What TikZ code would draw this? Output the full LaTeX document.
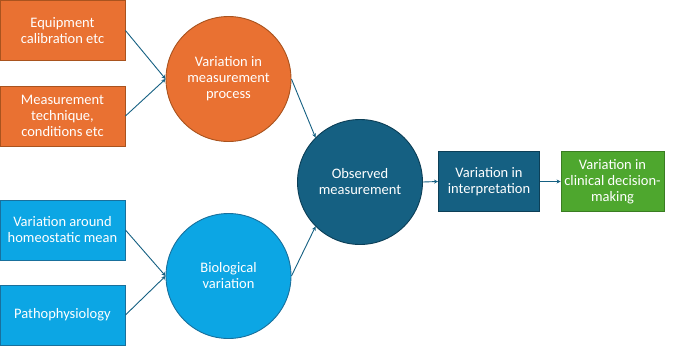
\documentclass[tikz,border=0pt]{standalone}
\usepackage{fontspec}
\setmainfont{Carlito}
\usetikzlibrary{arrows.meta}
\definecolor{orangefill}{HTML}{E97132}
\definecolor{orangeline}{HTML}{A9531E}
\definecolor{skyfill}{HTML}{0CA6E4}
\definecolor{skyline}{HTML}{19709C}
\definecolor{tealfill}{HTML}{156082}
\definecolor{tealline}{HTML}{0C3F57}
\definecolor{greenfill}{HTML}{4EA72E}
\definecolor{greenline}{HTML}{3A7D22}
\tikzset{
  boxtext/.style={align=center,text=white,font=\fontsize{14.5}{16}\selectfont},
  factor/.style={boxtext,draw,line width=0.9pt,minimum width=125pt,minimum height=60pt},
  source/.style={boxtext,circle,draw,line width=0.9pt,minimum size=125pt,inner sep=0pt},
  stage/.style={boxtext,draw,line width=0.9pt,minimum width=101pt,minimum height=60pt},
  link/.style={-{Stealth[length=4pt,width=4pt]},line width=0.9pt,draw=tealfill}
}
\begin{document}
\begin{tikzpicture}[x=1pt,y=-1pt]
\useasboundingbox (0,0) rectangle (680,346);
% measurement side
\node[factor,fill=orangefill,draw=orangeline] (calib) at (62.5,30.5) {Equipment\\calibration etc};
\node[factor,fill=orangefill,draw=orangeline] (techn) at (62.5,116) {Measurement\\technique,\\conditions etc};
\node[source,fill=orangefill,draw=orangeline] (measvar) at (228.5,79) {Variation in\\measurement\\process};
% biological side
\node[factor,fill=skyfill,draw=skyline] (homeo) at (62.5,230) {Variation around\\homeostatic mean};
\node[factor,fill=skyfill,draw=skyline] (patho) at (62.5,315) {Pathophysiology};
\node[source,fill=skyfill,draw=skyline] (biovar) at (228.5,276) {Biological\\variation};
% outcome chain
\node[source,fill=tealfill,draw=tealline] (observed) at (360,182) {Observed\\measurement};
\node[stage,fill=tealfill,draw=tealline] (interp) at (489,181.5) {Variation in\\interpretation};
\node[stage,fill=greenfill,draw=greenline] (decision) at (612.5,181.5) {Variation in\\clinical decision-\\making};
\draw[link] (calib.east) -- (measvar.west);
\draw[link] (techn.east) -- (measvar.west);
\draw[link] (homeo.east) -- (biovar.west);
\draw[link] (patho.east) -- (biovar.west);
\draw[link] (measvar.east) -- (observed.135);
\draw[link] (biovar.east) -- (observed.225);
\draw[link] (observed.east) -- (interp.west);
\draw[link] (interp.east) -- (decision.west);
\end{tikzpicture}
\end{document}
